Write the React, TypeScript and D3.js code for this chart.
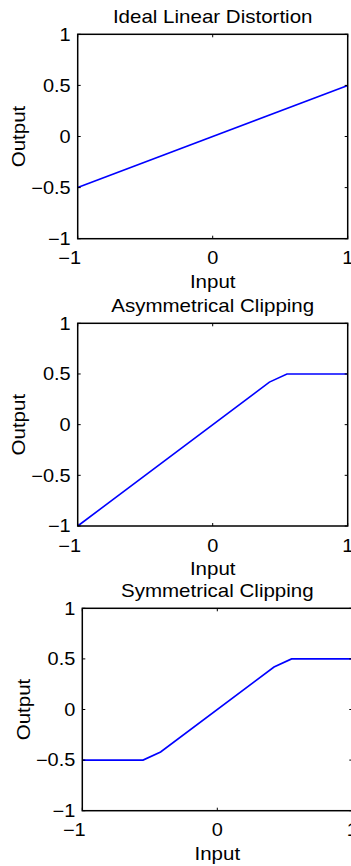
import React from "react";
import * as d3 from "d3";

const titles = ["Ideal Linear Distortion", "Asymmetrical Clipping", "Symmetrical Clipping"];
const xLabel = "Input";
const yLabel = "Output";
const xTicks = [-1, 0, 1];
const yTicks = [-1, -0.5, 0, 0.5, 1];

const linearX = [-1, 1];
const linearY = [-0.5, 0.5];
const asymX = [-1, 0.42, 0.55, 1];
const asymY = [-1, 0.42, 0.5, 0.5];
const symX = [-1, -0.55, -0.42, 0.42, 0.55, 1];
const symY = [-0.5, -0.5, -0.42, 0.42, 0.5, 0.5];

const seriesX = [linearX, asymX, symX];
const seriesY = [linearY, asymY, symY];

// layout (plot boxes)
const boxes = [
  { left: 77.7, right: 347.7, top: 34.3, bottom: 238.7 },
  { left: 77.7, right: 347.7, top: 323.3, bottom: 526 },
  { left: 82.3, right: 352.3, top: 608.3, bottom: 810.7 },
];

const FONT = "'Liberation Sans', Arial, Helvetica, sans-serif";
const SX = 1.14;
const TICK_FS = 17.5;
const LABEL_FS = 18;

const fmt = (v: number) => {
  const s = String(v);
  return s.startsWith("-") ? "\u2212" + s.slice(1) : s;
};

function Panel({ idx }: { idx: number }) {
  const b = boxes[idx];
  const x = d3.scaleLinear().domain([-1, 1]).range([b.left, b.right]);
  const y = d3.scaleLinear().domain([-1, 1]).range([b.bottom, b.top]);
  const pts: [number, number][] = seriesX[idx].map((v, i) => [v, seriesY[idx][i]]);
  const line = d3
    .line<[number, number]>()
    .x((d) => x(d[0]))
    .y((d) => y(d[1]));
  const tl = 3;
  const cx = (b.left + b.right) / 2;
  const cy = (b.top + b.bottom) / 2;
  return (
    <g>
      <rect x={b.left} y={b.top} width={b.right - b.left} height={b.bottom - b.top} fill="#fff" />
      <path d={line(pts) || ""} fill="none" stroke="#0000ff" strokeWidth={1.6} />
      <rect
        x={b.left}
        y={b.top}
        width={b.right - b.left}
        height={b.bottom - b.top}
        fill="none"
        stroke="#000"
        strokeWidth={1.5}
      />
      {xTicks.map((t) => (
        <g key={"xt" + t}>
          <line x1={x(t)} x2={x(t)} y1={b.bottom} y2={b.bottom - tl} stroke="#000" strokeWidth={1} />
          <line x1={x(t)} x2={x(t)} y1={b.top} y2={b.top + tl} stroke="#000" strokeWidth={1} />
          <text
            transform={`translate(${x(t) + (t < 0 ? -8 : 0)},${b.bottom + 25.5}) scale(${SX},1)`}
            textAnchor="middle"
            fontFamily={FONT}
            fontSize={TICK_FS}
            fill="#000"
          >
            {fmt(t)}
          </text>
        </g>
      ))}
      {yTicks.map((t) => (
        <g key={"yt" + t}>
          <line x1={b.left} x2={b.left + tl} y1={y(t)} y2={y(t)} stroke="#000" strokeWidth={1} />
          <line x1={b.right} x2={b.right - tl} y1={y(t)} y2={y(t)} stroke="#000" strokeWidth={1} />
          <text
            transform={`translate(${b.left - 7},${y(t) + 6.2}) scale(${SX},1)`}
            textAnchor="end"
            fontFamily={FONT}
            fontSize={TICK_FS}
            fill="#000"
          >
            {fmt(t)}
          </text>
        </g>
      ))}
      <text
        transform={`translate(${cx},${b.top - 11.5}) scale(${SX},1)`}
        textAnchor="middle"
        fontFamily={FONT}
        fontSize={LABEL_FS}
        fill="#000"
      >
        {titles[idx]}
      </text>
      <text
        transform={`translate(${cx},${b.bottom + 49}) scale(${SX},1)`}
        textAnchor="middle"
        fontFamily={FONT}
        fontSize={LABEL_FS}
        fill="#000"
      >
        {xLabel}
      </text>
      <text
        transform={`translate(${b.left - 52.5},${cy}) rotate(-90) scale(${SX},1)`}
        textAnchor="middle"
        fontFamily={FONT}
        fontSize={LABEL_FS}
        fill="#000"
      >
        {yLabel}
      </text>
    </g>
  );
}

export default function App() {
  return (
    <svg
      width={351}
      height={866}
      style={{ position: "absolute", left: 0, top: 0, background: "#fff" }}
    >
      <rect width={351} height={866} fill="#fff" />
      {titles.map((_, i) => (
        <Panel key={i} idx={i} />
      ))}
    </svg>
  );
}
